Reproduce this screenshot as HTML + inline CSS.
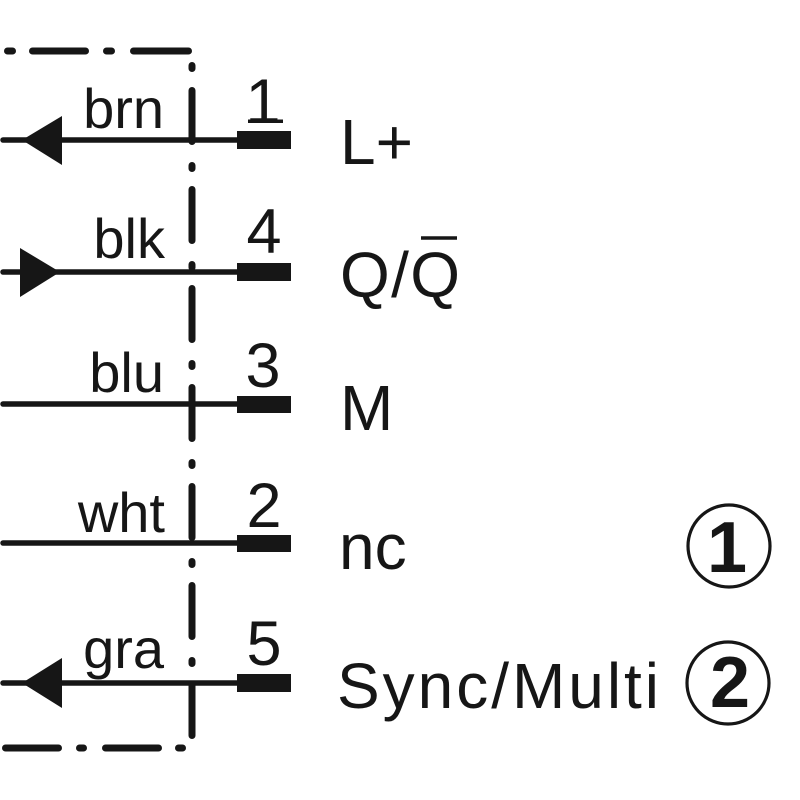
<!DOCTYPE html>
<html>
<head>
<meta charset="utf-8">
<style>
  html, body { margin: 0; padding: 0; background: #fff; }
  svg { display: block; }
  text { font-family: "Liberation Sans", "DejaVu Sans", sans-serif; fill: #161616; }
</style>
</head>
<body>
<svg width="800" height="800" viewBox="0 0 800 800" xmlns="http://www.w3.org/2000/svg">
  <rect width="800" height="800" fill="#fff"/>

  <!-- dash-dot housing outline -->
  <g stroke="#161616" stroke-width="7" stroke-linecap="round" fill="none">
    <!-- top -->
    <line x1="7.5" y1="51" x2="12.5" y2="51"/>
    <line x1="32.5" y1="51" x2="85.5" y2="51"/>
    <line x1="106.5" y1="51" x2="111.5" y2="51"/>
    <line x1="133.5" y1="51" x2="188.5" y2="51"/>
    <!-- vertical -->
    <line x1="192" y1="65.5" x2="192" y2="68.5"/>
    <line x1="192" y1="90.5" x2="192" y2="141.5"/>
    <line x1="192" y1="165.5" x2="192" y2="168.5"/>
    <line x1="192" y1="189.5" x2="192" y2="240.5"/>
    <line x1="192" y1="264.5" x2="192" y2="267.5"/>
    <line x1="192" y1="288.5" x2="192" y2="339.5"/>
    <line x1="192" y1="363.5" x2="192" y2="366.5"/>
    <line x1="192" y1="387.5" x2="192" y2="438.5"/>
    <line x1="192" y1="462.5" x2="192" y2="465.5"/>
    <line x1="192" y1="486.5" x2="192" y2="537.5"/>
    <line x1="192" y1="561.5" x2="192" y2="564.5"/>
    <line x1="192" y1="585.5" x2="192" y2="636.5"/>
    <line x1="192" y1="660.5" x2="192" y2="663.5"/>
    <line x1="192" y1="684.5" x2="192" y2="735.5"/>
    <!-- bottom -->
    <line x1="5.5" y1="748" x2="58.5" y2="748"/>
    <line x1="79.5" y1="748" x2="83.5" y2="748"/>
    <line x1="105.5" y1="748" x2="158.5" y2="748"/>
    <line x1="178.5" y1="748" x2="182.5" y2="748"/>
  </g>

  <!-- wires -->
  <g stroke="#161616" stroke-width="5.5" stroke-linecap="round">
    <line x1="3" y1="140" x2="240" y2="140"/>
    <line x1="3" y1="272" x2="240" y2="272"/>
    <line x1="3" y1="404" x2="240" y2="404"/>
    <line x1="3" y1="543" x2="240" y2="543"/>
    <line x1="3" y1="683" x2="240" y2="683"/>
  </g>

  <!-- pin blocks -->
  <g fill="#161616">
    <rect x="237" y="131" width="54" height="18"/>
    <rect x="237" y="263" width="54" height="18"/>
    <rect x="237" y="396" width="54" height="17"/>
    <rect x="237" y="535" width="54" height="17"/>
    <rect x="237" y="674" width="54" height="18"/>
  </g>

  <!-- arrows -->
  <g fill="#161616">
    <polygon points="22,140 62,116 62,165"/>
    <polygon points="20,248 20,297 60,272"/>
    <polygon points="22,683 62,658 62,708"/>
  </g>

  <!-- wire colour labels -->
  <g font-size="56" text-anchor="end">
    <text x="164" y="128">brn</text>
    <text x="165" y="258">blk</text>
    <text x="164" y="392">blu</text>
    <text x="165" y="532">wht</text>
    <text x="164" y="668">gra</text>
  </g>

  <!-- pin numbers -->
  <g font-size="63" text-anchor="middle">
    <text x="263" y="123">1</text>
    <text x="264" y="253">4</text>
    <text x="263" y="387">3</text>
    <text x="264" y="527">2</text>
    <text x="264" y="665">5</text>
  </g>
  <rect x="248" y="119.5" width="35" height="3.5" fill="#161616"/>

  <!-- signal names -->
  <g font-size="64">
    <text x="340" y="164">L+</text>
    <text x="340" y="297" textLength="120" lengthAdjust="spacing">Q/Q</text>
    <text x="340" y="430">M</text>
    <text x="339" y="569">nc</text>
    <text x="337" y="708" textLength="322" lengthAdjust="spacing">Sync/Multi</text>
  </g>
  <line x1="421" y1="238" x2="457" y2="238" stroke="#161616" stroke-width="3.5"/>

  <!-- circled notes -->
  <g fill="none" stroke="#161616" stroke-width="3.2">
    <circle cx="729" cy="546" r="41"/>
    <circle cx="728" cy="683" r="41"/>
  </g>
  <g font-size="72" font-weight="bold" text-anchor="middle">
    <text x="727" y="572">1</text>
    <text x="730" y="707">2</text>
  </g>
</svg>
</body>
</html>
